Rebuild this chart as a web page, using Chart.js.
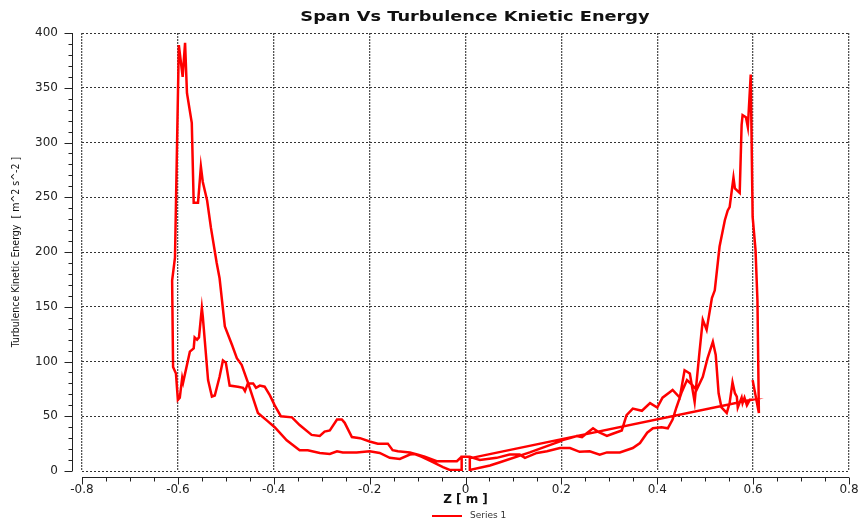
<!DOCTYPE html>
<html>
<head>
<meta charset="utf-8">
<script src="https://cdn.jsdelivr.net/npm/chart.js@4.4.0/dist/chart.umd.min.js"></script>
<style>
  html, body { margin: 0; padding: 0; background: #fff; }
  #wrap { width: 861px; height: 519px; }
</style>
</head>
<body>
<div id="wrap"><canvas id="c"></canvas></div>
<script>
const chartTitle = 'Span Vs Turbulence Knietic Energy';
const xTitle = 'Z [ m ]';
const yTitle = 'Turbulence Kinetic Energy  [ m^2 s^-2 ]';
const seriesName = 'Series 1';

// left half, upper branch: from the centre out to the leading edge
const leftUpperZ = [-0.008, -0.018, -0.060, -0.085, -0.099, -0.116, -0.141, -0.152, -0.162, -0.183,
  -0.200, -0.220, -0.237, -0.252, -0.258, -0.268, -0.283, -0.294, -0.304, -0.321,
  -0.346, -0.362, -0.385, -0.398, -0.408, -0.419, -0.429, -0.437, -0.443, -0.454,
  -0.460, -0.464, -0.475, -0.492, -0.500, -0.506, -0.513, -0.523, -0.529, -0.537,
  -0.548, -0.550, -0.556, -0.560, -0.565, -0.567, -0.575, -0.589, -0.591, -0.596,
  -0.600, -0.604, -0.610];
const leftUpperTke = [13, 9, 9, 13, 15, 17, 18, 19, 25, 25,
  27, 30, 31, 44, 47, 47, 37, 36, 32, 33,
  42, 49, 50, 60, 69, 77, 78, 76, 80, 80,
  73, 76, 77, 78, 99, 101, 86, 69, 68, 83,
  141, 149, 122, 120, 122, 112, 109, 81, 85, 67,
  65, 89, 95];

// left half, lower branch with the big peak: back to the centre
const leftLowerZ = [-0.612, -0.606, -0.598, -0.590, -0.585, -0.581, -0.571, -0.567, -0.558, -0.552,
  -0.548, -0.539, -0.531, -0.519, -0.513, -0.502, -0.487, -0.477, -0.467, -0.454,
  -0.433, -0.414, -0.398, -0.373, -0.346, -0.329, -0.304, -0.283, -0.268, -0.256,
  -0.227, -0.200, -0.179, -0.158, -0.137, -0.116, -0.106, -0.091, -0.068, -0.047,
  -0.033, -0.012, -0.008, -0.008];
const leftLowerTke = [174, 195, 389, 360, 391, 345, 318, 245, 245, 278,
  264, 247, 222, 190, 176, 132, 115, 103, 97, 81,
  53, 46, 40, 28, 19, 19, 16.5, 15.5, 18, 17,
  17, 18, 16.5, 12, 11, 15, 15.5, 13, 8, 3.6,
  1, 1, 1, 13];

// right half, lower branch: centre to trailing edge
const rightLowerZ = [0.009, 0.030, 0.065, 0.092, 0.113, 0.124, 0.149, 0.170, 0.197, 0.218,
  0.238, 0.259, 0.280, 0.295, 0.322, 0.349, 0.364, 0.379, 0.391, 0.409,
  0.422, 0.432, 0.440, 0.451, 0.462, 0.472, 0.482, 0.495, 0.505, 0.516,
  0.522, 0.528, 0.534, 0.545, 0.551, 0.557, 0.562, 0.566, 0.568, 0.576,
  0.578, 0.582, 0.587, 0.593, 0.597];
const rightLowerTke = [13, 10, 12, 15, 15, 12, 16.5, 18, 21, 21,
  17.5, 18, 15, 17, 17, 21, 25.5, 35, 39, 40,
  39, 47, 58, 72, 83, 79, 74, 86, 103, 118,
  106, 71, 58, 53, 62, 81, 71, 68, 58, 67,
  62, 67, 60, 65, 65];

// right half, upper branch with the big peak (starts with the jump back to the centre)
const rightUpperZ = [0.013, 0.009, 0.009, 0.051, 0.072, 0.134, 0.197, 0.201, 0.218, 0.232,
  0.243, 0.266, 0.276, 0.295, 0.307, 0.326, 0.336, 0.349, 0.368, 0.385,
  0.400, 0.411, 0.426, 0.432, 0.447, 0.457, 0.468, 0.478, 0.488, 0.495,
  0.503, 0.514, 0.520, 0.530, 0.541, 0.547, 0.551, 0.559, 0.562, 0.572,
  0.576, 0.578, 0.585, 0.589, 0.595, 0.599, 0.605, 0.609, 0.612, 0.599];
const rightUpperTke = [12, 12, 1, 5, 8, 17, 27, 28, 30, 32,
  31, 39, 36, 32, 34, 37, 51, 57, 55, 62,
  58, 67, 72, 74, 67, 92, 89, 63, 108, 138,
  129, 158, 165, 205, 229, 238, 241, 268, 258, 254,
  316, 325, 323, 314, 362, 232, 202, 156, 53, 83];

const segments = [
  [leftUpperZ, leftUpperTke],
  [leftLowerZ, leftLowerTke],
  [rightLowerZ, rightLowerTke],
  [rightUpperZ, rightUpperTke]
];
const points = segments.flatMap(([zs, ts]) => zs.map((z, i) => ({ x: z, y: ts[i] })));

const axesPlugin = {
    id: 'offsetAxes',
    afterDraw(chart) {
        const { ctx, chartArea: a, scales: { x, y } } = chart;
        ctx.save();
        ctx.strokeStyle = '#222';
        ctx.lineWidth = 1;
        ctx.beginPath();
        // y axis, set a bit left of the plot
        const ax = Math.round(a.left) - 10 + 0.5;
        ctx.moveTo(ax, y.getPixelForValue(400));
        ctx.lineTo(ax, y.getPixelForValue(0));
        for (let v = 0; v <= 400; v += 10) {
            const py = Math.round(y.getPixelForValue(v)) + 0.5;
            const len = v % 50 === 0 ? 8 : 4;
            ctx.moveTo(ax - len, py);
            ctx.lineTo(ax, py);
        }
        // x axis, set a bit below the plot
        const ay = Math.round(a.bottom) + 6 + 0.5;
        ctx.moveTo(x.getPixelForValue(-0.8), ay);
        ctx.lineTo(x.getPixelForValue(0.8), ay);
        for (let i = -16; i <= 16; i++) {
            const px = Math.round(x.getPixelForValue(i * 0.05)) + 0.5;
            const len = i % 4 === 0 ? 7 : 4;
            ctx.moveTo(px, ay);
            ctx.lineTo(px, ay + len);
        }
        ctx.stroke();

        // title (the source picture is stretched sideways)
        ctx.fillStyle = '#111';
        ctx.font = 'bold 14px "DejaVu Sans"';
        ctx.textAlign = 'center';
        ctx.textBaseline = 'middle';
        ctx.save();
        ctx.translate(475, 17);
        ctx.scale(1.27, 1);
        ctx.fillText(chartTitle, 0, 0);
        ctx.restore();

        // legend
        ctx.strokeStyle = '#ff0000';
        ctx.lineWidth = 2;
        ctx.beginPath();
        ctx.moveTo(432, 516);
        ctx.lineTo(462, 516);
        ctx.stroke();
        ctx.fillStyle = '#333';
        ctx.font = '9px "DejaVu Sans"';
        ctx.textAlign = 'left';
        ctx.fillText(seriesName, 470, 516);
        ctx.restore();
    }
};

new Chart(document.getElementById('c'), {
    type: 'scatter',
    data: {
        datasets: [{
            label: seriesName,
            data: points,
            showLine: true,
            borderColor: '#ff0000',
            backgroundColor: '#ff0000',
            borderWidth: 2.5,
            pointRadius: 0,
            tension: 0
        }]
    },
    options: {
        responsive: true,
        maintainAspectRatio: false,
        animation: false,
        layout: { padding: { top: 33, right: 12, left: 0, bottom: 10 } },
        plugins: {
            title: { display: false },
            tooltip: { enabled: false },
            legend: { display: false }
        },
        scales: {
            x: {
                type: 'linear',
                min: -0.8,
                max: 0.8,
                afterFit: s => { s.height = 38; s.paddingLeft = 0; s.paddingRight = 0; },
                ticks: {
                    stepSize: 0.2,
                    padding: 12,
                    color: '#222',
                    font: { family: 'DejaVu Sans', size: 12 },
                    callback: v => Math.abs(v) < 1e-9 ? '0' : v.toFixed(1)
                },
                grid: { color: '#555', lineWidth: 1.3, drawTicks: false },
                border: { display: false, dash: [2, 1] },
                title: {
                    display: true,
                    text: xTitle,
                    color: '#111',
                    font: { family: 'DejaVu Sans', size: 12, weight: 'bold' },
                    padding: { top: 0, bottom: 2 }
                }
            },
            y: {
                min: 0,
                max: 400,
                afterFit: s => { s.width = 82; },
                ticks: {
                    stepSize: 50,
                    padding: 24,
                    color: '#222',
                    font: { family: 'DejaVu Sans', size: 12 }
                },
                grid: { color: '#333', lineWidth: 1, drawTicks: false },
                border: { display: false, dash: [2, 2] },
                title: {
                    display: true,
                    text: yTitle,
                    color: '#111',
                    font: { family: '"Liberation Sans Narrow", "DejaVu Sans Condensed", sans-serif', size: 10.5 },
                    padding: { top: 10, bottom: 0 }
                }
            }
        }
    },
    plugins: [axesPlugin]
});
</script>
</body>
</html>
